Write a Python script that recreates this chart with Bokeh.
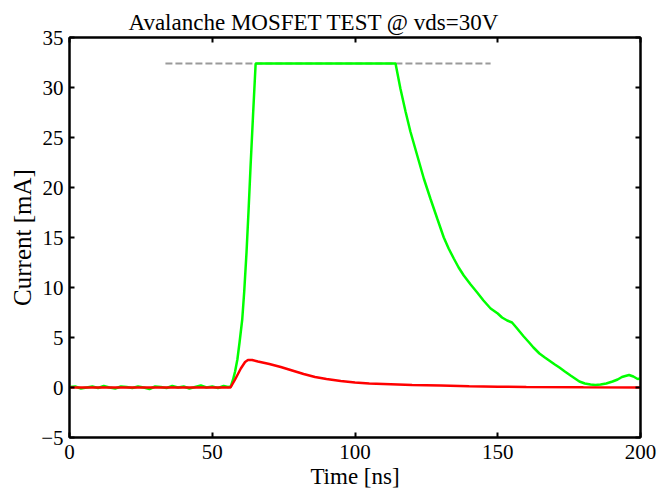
from bokeh.plotting import figure
from bokeh.models import LinearAxis, Range1d, FixedTicker
from bokeh.embed import file_html
from bokeh.resources import INLINE

# ---------------- data ----------------
title_text = "Avalanche MOSFET TEST @ vds=30V"
x_label = "Time [ns]"
y_label = "Current [mA]"
x_ticks = [0, 50, 100, 150, 200]
y_ticks = [-5, 0, 5, 10, 15, 20, 25, 30, 35]

# green trace (clipped measurement)
green_t = [0, 2, 4, 6, 8, 10, 12, 14, 16, 18, 20, 22, 24, 26, 28, 30, 32, 34, 36, 38,
           40, 42, 44, 46, 48, 50, 52, 54, 55.5,
           56.5, 57.3, 58, 58.8, 59.6, 60.5, 61.2, 62, 62.7, 63.4, 64.3, 65.2,
           114.2, 115.9, 117.7, 119.4, 121.8, 124.1, 126.4, 128.8, 131.1, 132.8, 134.6,
           136.3, 138.1, 140.5, 142.8, 145, 147.5, 150, 151.5, 153.3, 155, 156.5,
           159.1, 161, 162.5, 164.6, 166.5, 168, 170, 171.6, 173.5, 175.5, 178.6,
           180.5, 182.5, 184.2, 186, 188, 190.2, 192, 193.5, 194.7, 196,
           197.5, 199, 200]
green_i = [0.05, 0.1, -0.1, 0.0, 0.1, -0.05, 0.15, 0.0, -0.1, 0.1, 0.05, -0.05, 0.1, 0.0, -0.15, 0.1, 0.05, -0.05, 0.15, 0.0,
           0.1, -0.1, 0.05, 0.2, 0.0, 0.1, -0.05, 0.15, 0.05,
           0.1, 0.8, 1.6, 2.8, 4.6, 6.8, 9.6, 13.5, 17.6, 22.0, 27.3, 32.4,
           32.4, 29.9, 27.6, 25.6, 23.2, 20.9, 18.9, 16.9, 15.0, 13.9, 12.9,
           12.0, 11.2, 10.3, 9.5, 8.7, 7.9, 7.4, 7.0, 6.7, 6.5, 6.0,
           5.1, 4.5, 4.0, 3.4, 3.0, 2.7, 2.3, 2.0, 1.6, 1.2, 0.6,
           0.4, 0.3, 0.25, 0.3, 0.4, 0.6, 0.8, 1.05, 1.15, 1.25,
           1.1, 0.85, 0.9]

# red trace
red_t = [0, 20, 40, 50, 56.4, 58, 60, 61.5, 62.5, 64, 66, 70, 74, 78, 82, 86, 90,
         95, 100, 105, 110, 120, 130, 140, 150, 160, 180, 200]
red_i = [0.0, 0.0, 0.0, 0.0, 0.0, 0.8, 1.9, 2.55, 2.75, 2.75, 2.6, 2.35, 2.05, 1.7, 1.35, 1.05, 0.85,
         0.65, 0.5, 0.4, 0.35, 0.25, 0.2, 0.12, 0.08, 0.05, 0.02, 0.0]

# clipping level (grey dashed)
clip_t = [33.6, 147.5]
clip_i = [32.4, 32.4]

# ---------------- figure ----------------
FONT = "Liberation Serif, Times New Roman, Times, serif"

p = figure(frame_width=571, frame_height=400,
           x_range=Range1d(0, 200), y_range=Range1d(-5, 35),
           output_backend="svg", toolbar_location=None,
           min_border_left=69, min_border_right=25,
           min_border_top=37, min_border_bottom=55,
           background_fill_color="white", border_fill_color="white")

p.xgrid.visible = False
p.ygrid.visible = False
p.outline_line_color = "black"
p.outline_line_width = 2

p.title.text = title_text
p.title.text_font = FONT
p.title.text_font_style = "normal"
p.title.text_font_size = "23px"
p.title.text_color = "black"
p.title.align = "left"
p.title.offset = 59
p.title.standoff = 6

p.line(clip_t, clip_i, line_color="#9a9a9a", line_width=2, line_dash="7 3")
p.line(green_t, green_i, line_color="#00ff00", line_width=2.5)
p.line(red_t, red_i, line_color="#ff0000", line_width=2.5)


def style(ax, ticks, show_labels=True):
    ax.ticker = FixedTicker(ticks=ticks)
    ax.axis_line_color = "black"
    ax.axis_line_width = 2
    ax.major_tick_line_color = "black"
    ax.major_tick_line_width = 2
    ax.major_tick_in = 5
    ax.major_tick_out = 0
    ax.minor_tick_line_color = None
    ax.major_label_text_font = FONT
    if show_labels:
        ax.major_label_text_color = "black"
        ax.major_label_text_font_size = "21px"
    else:
        ax.major_label_text_color = None
        ax.major_label_text_font_size = "1px"
        ax.major_label_standoff = 0


xa = p.xaxis[0]
style(xa, x_ticks)
xa.axis_label = x_label
xa.axis_label_text_font = FONT
xa.axis_label_text_font_style = "normal"
xa.axis_label_text_font_size = "23px"
xa.axis_label_text_color = "black"
xa.major_label_standoff = 7
xa.axis_label_standoff = 2

ya = p.yaxis[0]
style(ya, y_ticks)
ya.axis_label = y_label
ya.axis_label_text_font = FONT
ya.axis_label_text_font_style = "normal"
ya.axis_label_text_font_size = "25px"
ya.axis_label_text_color = "black"
ya.major_label_standoff = 6
ya.axis_label_standoff = 2

top = LinearAxis()
style(top, x_ticks, show_labels=False)
p.add_layout(top, "above")

right = LinearAxis()
style(right, y_ticks, show_labels=False)
p.add_layout(right, "right")

open("out.html", "w").write(file_html(p, INLINE))
